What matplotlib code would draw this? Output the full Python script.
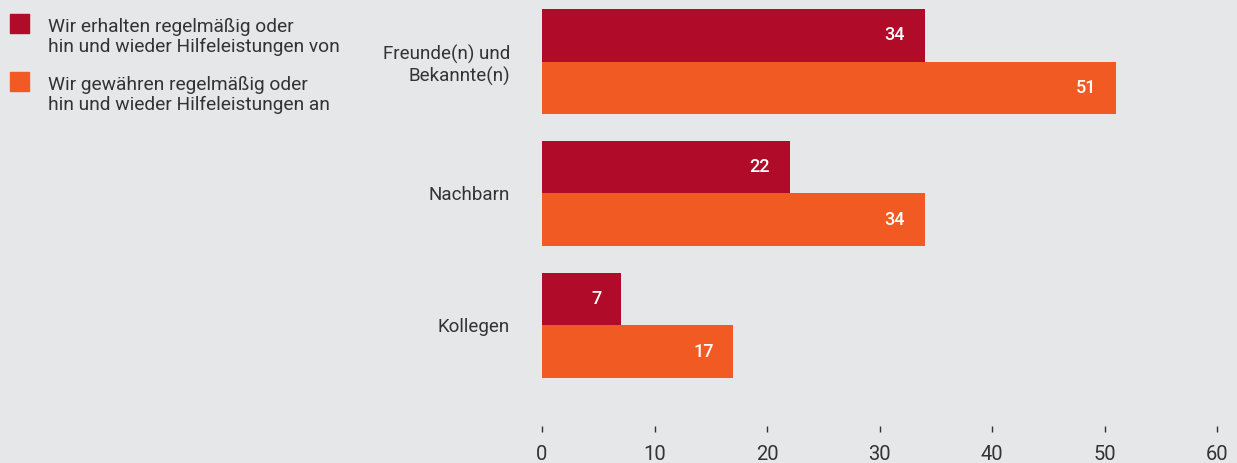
import numpy as np
import matplotlib.pyplot as plt

# Hilfeleistungen: erhalten vs. gewährt (Anteile in %)
categories = ["Freunde(n) und\nBekannte(n)", "Nachbarn", "Kollegen"]
erhalten = [34, 22, 7]
gewaehren = [51, 34, 17]
legend_labels = [
    "Wir erhalten regelmäßig oder\nhin und wieder Hilfeleistungen von",
    "Wir gewähren regelmäßig oder\nhin und wieder Hilfeleistungen an",
]
xticks = [0, 10, 20, 30, 40, 50, 60]

BG = "#e6e7e9"
RED = "#b00b28"
ORANGE = "#f15a22"
TXT = "#333333"

plt.rcParams['font.family'] = ['Roboto', 'DejaVu Sans']

W, H = 1237, 463
fig = plt.figure(figsize=(W / 100, H / 100), dpi=100, facecolor=BG)
ax = fig.add_axes([542 / W, (H - 432) / H, (1217 - 542) / W, 432 / H])
ax.set_facecolor(BG)

pos = np.arange(len(categories))
h = 0.4
ax.barh(pos - h / 2, erhalten, height=h, color=RED)
ax.barh(pos + h / 2, gewaehren, height=h, color=ORANGE)

for y, v in zip(pos - h / 2, erhalten):
    ax.annotate(str(v), (v, y), xytext=(-14, 0), textcoords="offset points",
                ha="right", va="center", color="white", fontsize=13, fontweight="medium")
for y, v in zip(pos + h / 2, gewaehren):
    ax.annotate(str(v), (v, y), xytext=(-14, 0), textcoords="offset points",
                ha="right", va="center", color="white", fontsize=13, fontweight="medium")

ax.set_xlim(0, 60)
ax.set_ylim(2.807, -0.466)
ax.set_xticks(xticks)
ax.set_xticklabels([str(t) for t in xticks], fontsize=14.5, color=TXT)
ax.tick_params(axis="x", direction="in", length=4, width=1, color=TXT, pad=9)
ax.set_yticks(pos)
ax.set_yticklabels(categories, fontsize=13.5, color=TXT, linespacing=1.2)
ax.tick_params(axis="y", length=0, pad=23)
for s in ax.spines.values():
    s.set_visible(False)

# legend drawn by hand: squares plus two-line texts
for i, (lab, col) in enumerate(zip(legend_labels, [RED, ORANGE])):
    top = 14 + i * 58
    fig.patches.append(plt.Rectangle((10 / W, 1 - (top + 19) / H), 19 / W, 19 / H,
                                     transform=fig.transFigure, color=col))
    fig.text(48 / W, 1 - (top + 4) / H, lab, ha="left", va="top",
             fontsize=13.8, color=TXT, linespacing=1.12)

fig.savefig("out.png", dpi=100, facecolor=BG)
